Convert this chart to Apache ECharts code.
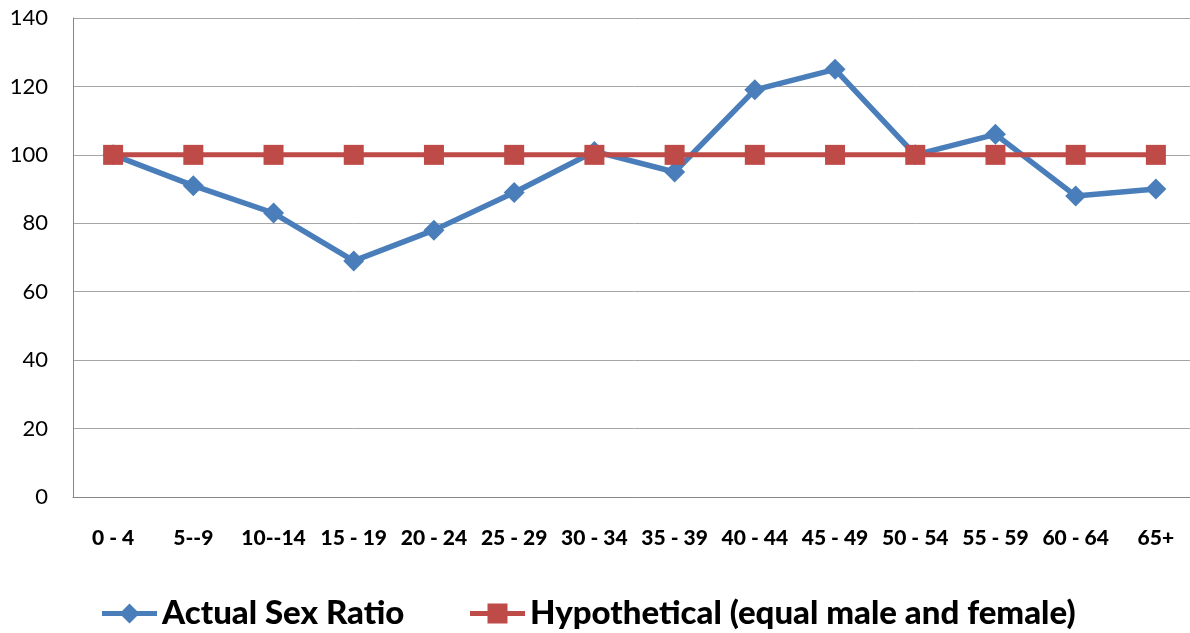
<!DOCTYPE html>
<html>
<head>
<meta charset="utf-8">
<script src="https://cdn.jsdelivr.net/npm/echarts@6/dist/echarts.min.js"></script>
<style>
html,body{margin:0;padding:0;background:#fff;overflow:hidden;width:1190px;height:633px;}
#chart{width:1197px;height:633px;}
</style>
</head>
<body>
<div id="chart"></div>
<script>
var categories = ['0 - 4','5--9','10--14','15 - 19','20 - 24','25 - 29','30 - 34','35 - 39','40 - 44','45 - 49','50 - 54','55 - 59','60 - 64','65+'];
var actualRatio = [100, 91, 83, 69, 78, 89, 101, 95, 119, 125, 100, 106, 88, 90];
var hypothetical = [100, 100, 100, 100, 100, 100, 100, 100, 100, 100, 100, 100, 100, 100];
var yTicks = [0, 20, 40, 60, 80, 100, 120, 140];

var legendText = { fontFamily: 'Lato', fontWeight: 900, fontSize: 33, color: '#000' };
var diamondIcon = 'path://M0,7.5L55,7.5L55,12.5L0,12.5Z M17.5,10L27.5,0L37.5,10L27.5,20Z';
var squareIcon = 'path://M0,7.5L55,7.5L55,12.5L0,12.5Z M17.5,0L37.5,0L37.5,20L17.5,20Z';
var chart = echarts.init(document.getElementById('chart'));
chart.setOption({
  animation: false,
  backgroundColor: '#ffffff',
  grid: { left: 73, top: 18, width: 1123, height: 479, containLabel: false },
  legend: [
    { left: 97, top: 592, itemWidth: 55, itemHeight: 20, textStyle: legendText,
      data: [{ name: 'Actual Sex Ratio', icon: diamondIcon }] },
    { left: 465, top: 592, itemWidth: 55, itemHeight: 20, textStyle: legendText,
      data: [{ name: 'Hypothetical (equal male and female)', icon: squareIcon }] }
  ],
  xAxis: {
    type: 'category',
    data: categories,
    boundaryGap: true,
    axisLine: { lineStyle: { color: '#868686', width: 1 } },
    axisTick: { show: false },
    axisLabel: { interval: 0, margin: 31, fontFamily: 'Lato', fontWeight: 900, fontSize: 21, color: '#000' }
  },
  yAxis: {
    type: 'value',
    min: yTicks[0], max: yTicks[yTicks.length-1], interval: 20,
    axisLine: { show: true, lineStyle: { color: '#868686', width: 1 } },
    axisTick: { show: false },
    splitLine: { lineStyle: { color: '#a6a6a6', width: 1 } },
    axisLabel: { margin: 25, fontFamily: 'Lato', fontSize: 22, color: '#000' }
  },
  series: [
    {
      name: 'Actual Sex Ratio', type: 'line', data: actualRatio,
      symbol: 'diamond', symbolSize: 21,
      lineStyle: { color: '#4a7ebb', width: 5.5 },
      itemStyle: { color: '#4a7ebb' },
      z: 2
    },
    {
      name: 'Hypothetical (equal male and female)', type: 'line', data: hypothetical,
      symbol: 'rect', symbolSize: 20,
      lineStyle: { color: '#be4b48', width: 5 },
      itemStyle: { color: '#be4b48' },
      z: 3
    }
  ]
});
</script>
</body>
</html>
